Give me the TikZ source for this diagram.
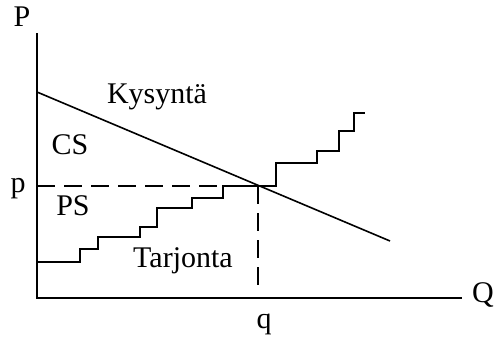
\documentclass[tikz,border=0pt]{standalone}
\usepackage{fontspec}
\setmainfont{Liberation Serif}
\begin{document}
\begin{tikzpicture}[x=1pt,y=-1pt,
  lbl/.style={font=\fontsize{30}{33}\selectfont, inner sep=0pt, anchor=base},
  curve/.style={line width=1.6pt},
  axis/.style={line width=1.5pt},
  guide/.style={line width=1.5pt, dash pattern=on 18pt off 9pt}]
\useasboundingbox (0,0) rectangle (496,340);
\coordinate (O) at (37,298);
\coordinate (Ytop) at (37,33);
\coordinate (Xend) at (462,298);
\coordinate (D1) at (37,92);
\coordinate (D2) at (390,241);
\coordinate (E) at (258,186);
\coordinate (Pax) at (37,186);
\coordinate (Qax) at (258,290);
\draw[axis] (Ytop) -- (O) -- (Xend);
\draw[curve] (D1) -- (D2);
\draw[guide] (Pax) -- (E);
\draw[guide] (E) -- (Qax);
\draw[curve] (37,262) -- (80,262) -- (80,249) -- (98,249) -- (98,237) -- (140,237)
  -- (140,227) -- (157,227) -- (157,208) -- (192,208) -- (192,198) -- (223,198)
  -- (223,186) -- (276,186) -- (276,163) -- (317,163) -- (317,151) -- (339,151)
  -- (339,131) -- (354,131) -- (354,113) -- (365,113);
\node[lbl] (P) at (22,27) {P};
\node[lbl] (Q) at (483,302) {Q};
\node[lbl] (p) at (18,192) {p};
\node[lbl] (q) at (264,328) {q};
\node[lbl] (K) at (157,103) {Kysyntä};
\node[lbl] (CS) at (70,154) {CS};
\node[lbl] (PS) at (73,215) {PS};
\node[lbl] (T) at (183,267) {Tarjonta};
\end{tikzpicture}
\end{document}
